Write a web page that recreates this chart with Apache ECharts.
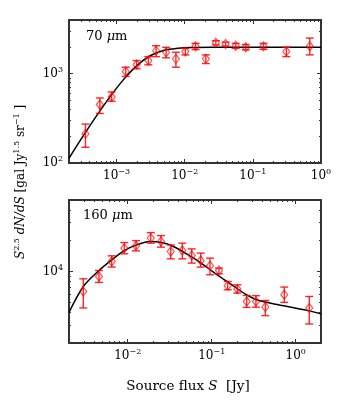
<!DOCTYPE html>
<html><head>
<meta charset="utf-8">
<title>Source counts</title>
<script src="https://cdn.jsdelivr.net/npm/echarts@6/dist/echarts.min.js"></script>
<style>
html,body{margin:0;padding:0;background:#fff}
#main{width:341px;height:400px}
</style>
</head>
<body>
<div id="main"></div>
<script>
// 70 um panel
var flux70 = [3.49e-4, 5.67e-4, 8.44e-4, 1.36e-3, 1.97e-3, 2.92e-3, 3.8e-3, 5.33e-3, 7.42e-3, 1.02e-2,
              1.44e-2, 2.04e-2, 2.86e-2, 3.98e-2, 5.6e-2, 7.86e-2, 0.143, 0.31, 0.684];
var val70  = [212, 452, 550, 1060, 1268, 1405, 1815, 1740, 1468, 1770,
              2027, 1468, 2230, 2155, 2060, 1977, 2027, 1770, 2027];
var lo70   = [150, 359, 492, 934, 1136, 1259, 1555, 1506, 1183, 1626,
              1862, 1300, 2100, 2040, 1930, 1850, 1877, 1555, 1626];
var hi70   = [273, 535, 625, 1183, 1405, 1555, 2060, 1977, 1740, 1922,
              2189, 1626, 2345, 2260, 2189, 2125, 2189, 1977, 2510];
var curveX70 = [2e-4, 3.16e-4, 5.01e-4, 7.94e-4, 1.26e-3, 2.0e-3, 3.16e-3, 5.01e-3, 7.94e-3, 1.26e-2, 2.51e-2, 0.1, 1];
var curveY70 = [113, 196, 333, 547, 859, 1242, 1600, 1837, 1928, 1968, 1980, 1980, 1980];

// 160 um panel
var flux160 = [2.96e-3, 4.55e-3, 6.45e-3, 9.11e-3, 1.256e-2, 1.88e-2, 2.49e-2, 3.25e-2, 4.47e-2, 5.78e-2,
               7.4e-2, 9.55e-2, 0.122, 0.155, 0.202, 0.261, 0.336, 0.435, 0.731, 1.45];
var val160  = [6380, 8940, 12520, 16910, 17820, 21200, 19620, 15670, 16030, 14330,
               12800, 11370, 10230, 7250, 6730, 5090, 5090, 4500, 5930, 4400];
var lo160   = [4400, 7820, 11040, 14880, 15920, 18930, 17300, 13300, 13300, 12080,
               11040, 9290, 9500, 6630, 6150, 4460, 4480, 3700, 4990, 3070];
var hi160   = [8490, 10230, 14230, 19180, 20050, 23980, 22440, 18200, 18930, 16640,
               15140, 13510, 10800, 7980, 7410, 5830, 5800, 5210, 7050, 5700];
var curveX160 = [2e-3, 2.96e-3, 4.55e-3, 6.45e-3, 9.11e-3, 1.28e-2, 1.84e-2, 2.54e-2, 3.49e-2, 5.2e-2,
                 7.26e-2, 0.104, 0.1375, 0.181, 0.249, 0.343, 0.541, 0.855, 1.35, 2];
var curveY160 = [3980, 7140, 10230, 13000, 16030, 18200, 19620, 19180, 17540, 14600,
                 12300, 9900, 8440, 7240, 6050, 5300, 4840, 4500, 4170, 3860];

// tick labels (powers of ten)
var xLabels70 = [1e-3, 1e-2, 1e-1, 1];
var yLabels70 = [1e2, 1e3];
var xLabels160 = [1e-2, 1e-1, 1];
var yLabels160 = [1e4];

var red = 'rgba(255,0,0,0.85)';
var frame = '#333';
var serif = 'DejaVu Serif';

// minor ticks at 2..9 x each decade
function minorTicks(min, max) {
  var out = [];
  for (var e = Math.floor(Math.log10(min)); e <= Math.ceil(Math.log10(max)); e++) {
    for (var m = 2; m <= 9; m++) {
      var v = m * Math.pow(10, e);
      if (v >= min * 0.999 && v <= max * 1.001) out.push(v);
    }
  }
  return out;
}
function majorTicks(min, max) {
  var out = [];
  for (var e = Math.floor(Math.log10(min)); e <= Math.ceil(Math.log10(max)); e++) {
    var v = Math.pow(10, e);
    if (v >= min * 0.999 && v <= max * 1.001) out.push(v);
  }
  return out;
}
function powLabel(v) {
  var e = Math.round(Math.log10(v));
  return '{b|10}{s|' + (e < 0 ? '\u2212' + (-e) : e) + '}';
}
var richTick = {
  b: {fontFamily: serif, fontSize: 12, lineHeight: 16, color: '#000'},
  s: {fontFamily: serif, fontSize: 8, lineHeight: 9, verticalAlign: 'top', color: '#000'}
};

// major + minor axes on both sides of each grid
function makeAxes(type, gridIndex, min, max, labels) {
  var sides = type === 'x' ? ['bottom', 'top'] : ['left', 'right'];
  var majors = majorTicks(min, max), minors = minorTicks(min, max);
  var list = [];
  sides.forEach(function (pos, k) {
    list.push({
      type: 'log', gridIndex: gridIndex, position: pos, min: min, max: max,
      axisLine: {show: true, lineStyle: {color: frame, width: 2}},
      axisTick: {show: true, inside: true, length: 4, customValues: majors, lineStyle: {color: frame, width: 1}},
      axisLabel: k === 0 ? {show: true, customValues: labels, formatter: powLabel, rich: richTick,
                            margin: type === 'x' ? 5 : 6} : {show: false},
      splitLine: {show: false}, minorTick: {show: false}
    });
    list.push({
      type: 'log', gridIndex: gridIndex, position: pos, min: min, max: max,
      axisLine: {show: false},
      axisTick: {show: true, inside: true, length: 2, customValues: minors, lineStyle: {color: frame, width: 1}},
      axisLabel: {show: false}, splitLine: {show: false}
    });
  });
  return list;
}

var xAxes = makeAxes('x', 0, 2e-4, 1, xLabels70).concat(makeAxes('x', 1, 2e-3, 2, xLabels160));
var yAxes = makeAxes('y', 0, 100, 4000, yLabels70).concat(makeAxes('y', 1, 2000, 50000, yLabels160));

function zip(a, b) { return a.map(function (v, i) { return [v, b[i]]; }); }
function errData(x, y, lo, hi) { return x.map(function (v, i) { return [v, y[i], lo[i], hi[i]]; }); }

function errRender(params, api) {
  var x = api.value(0);
  var top = api.coord([x, api.value(3)]);
  var bot = api.coord([x, api.value(2)]);
  var w = 4;
  var st = {stroke: red, lineWidth: 1.4};
  return {type: 'group', children: [
    {type: 'line', shape: {x1: top[0], y1: top[1], x2: bot[0], y2: bot[1]}, style: st},
    {type: 'line', shape: {x1: top[0] - w, y1: top[1], x2: top[0] + w, y2: top[1]}, style: st},
    {type: 'line', shape: {x1: bot[0] - w, y1: bot[1], x2: bot[0] + w, y2: bot[1]}, style: st}
  ]};
}

function panelSeries(xi, yi, flux, val, lo, hi, cx, cy) {
  return [
    {type: 'line', xAxisIndex: xi, yAxisIndex: yi, data: zip(cx, cy), smooth: 0.3, symbol: 'none',
     lineStyle: {color: '#000', width: 1.5}, z: 2, silent: true},
    {type: 'custom', xAxisIndex: xi, yAxisIndex: yi, data: errData(flux, val, lo, hi),
     renderItem: errRender, encode: {x: 0, y: 1}, z: 3, silent: true},
    {type: 'scatter', xAxisIndex: xi, yAxisIndex: yi, data: zip(flux, val), symbol: 'diamond',
     symbolSize: [7, 9], itemStyle: {color: 'rgba(255,255,255,0)', borderColor: red, borderWidth: 1.2}, z: 4, silent: true}
  ];
}

var chart = echarts.init(document.getElementById('main'));
chart.setOption({
  animation: false,
  grid: [
    {left: 69, top: 20, width: 252, height: 143},
    {left: 69, top: 200, width: 252, height: 143}
  ],
  xAxis: xAxes,
  yAxis: yAxes,
  series: panelSeries(0, 0, flux70, val70, lo70, hi70, curveX70, curveY70)
    .concat(panelSeries(4, 4, flux160, val160, lo160, hi160, curveX160, curveY160)),
  graphic: [
    {type: 'text', left: 86, top: 30, style: {text: '{n|70 }{i|\u03bc}{n|m}',
      rich: {n: {fontFamily: serif, fontSize: 13, fill: '#000'}, i: {fontFamily: serif, fontSize: 13, fontStyle: 'italic', fill: '#000'}}}},
    {type: 'text', left: 83, top: 209, style: {text: '{n|160 }{i|\u03bc}{n|m}',
      rich: {n: {fontFamily: serif, fontSize: 13, fill: '#000'}, i: {fontFamily: serif, fontSize: 13, fontStyle: 'italic', fill: '#000'}}}},
    {type: 'text', x: 188, y: 386, style: {text: '{n|Source flux }{i|S}{n|  [Jy]}', align: 'center', verticalAlign: 'middle',
      rich: {n: {fontFamily: serif, fontSize: 13.5, fill: '#000'}, i: {fontFamily: serif, fontSize: 13.5, fontStyle: 'italic', fill: '#000'}}}},
    {type: 'text', x: 21, y: 182, rotation: Math.PI / 2,
     style: {text: '{i|S}{s|2.5}{i| dN/dS}{n| [gal Jy}{s|1.5}{n| sr}{s|\u22121}{n| ]}', align: 'center', verticalAlign: 'middle',
      rich: {n: {fontFamily: serif, fontSize: 12, lineHeight: 16, fill: '#000'},
             i: {fontFamily: serif, fontSize: 12, lineHeight: 16, fontStyle: 'italic', fill: '#000'},
             s: {fontFamily: serif, fontSize: 8, lineHeight: 9, verticalAlign: 'top', fill: '#000'}}}}
  ]
});
</script>
</body>
</html>
